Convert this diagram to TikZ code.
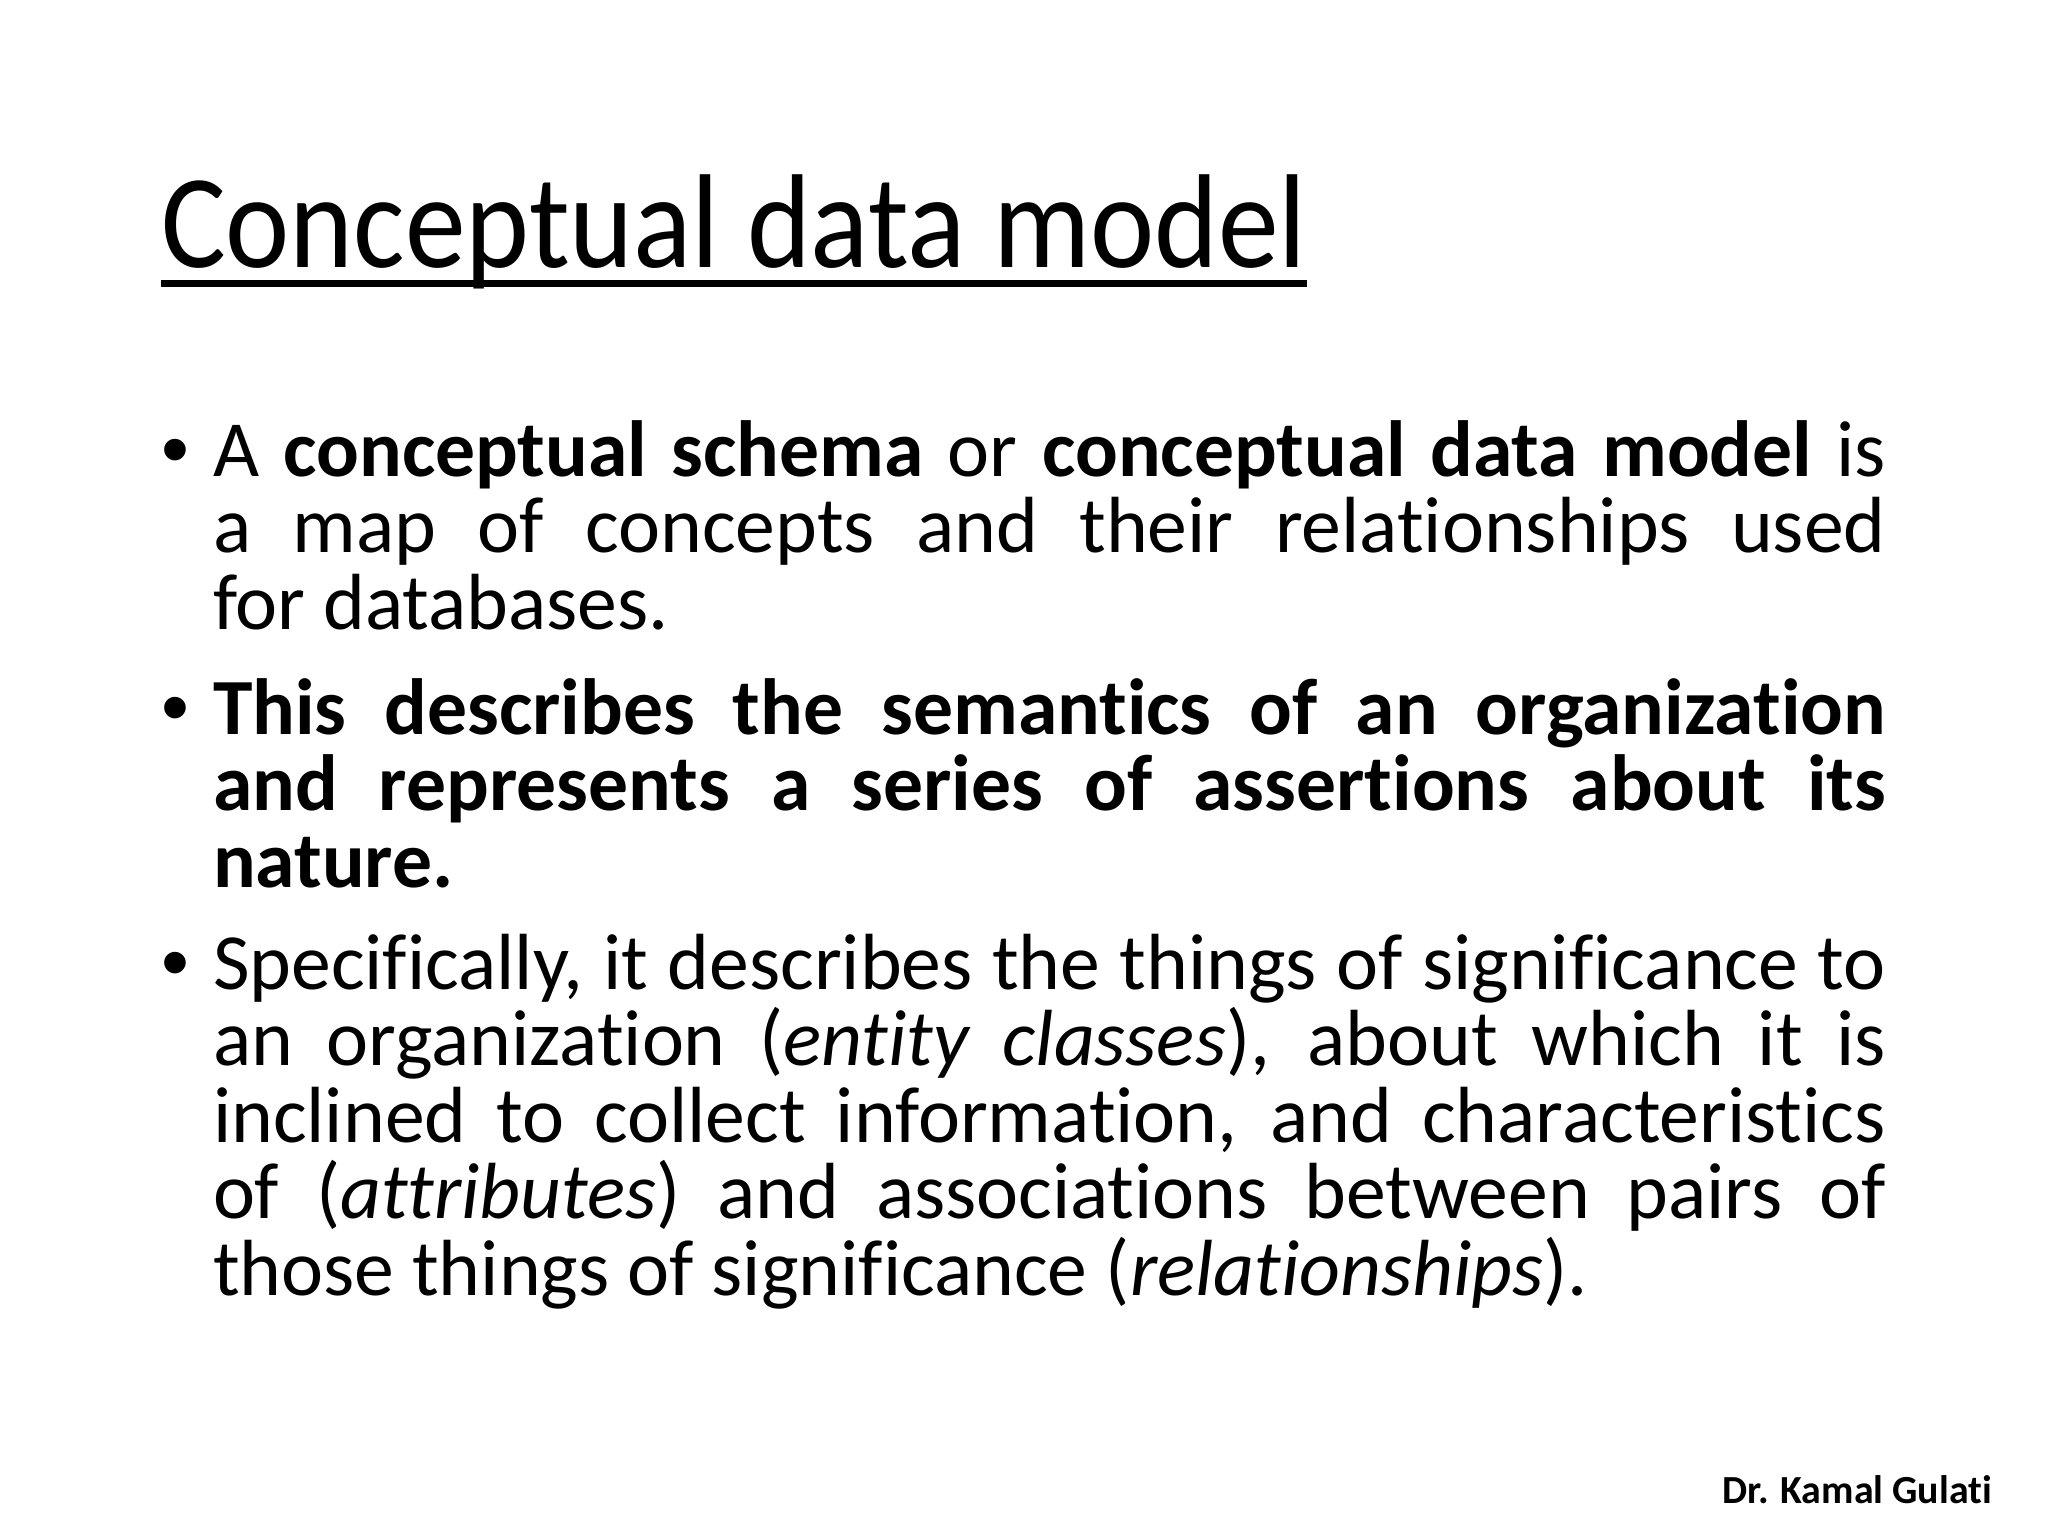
\documentclass[tikz,border=0pt]{standalone}
\usepackage{fontspec}
\setmainfont{Carlito}[Ligatures=NoCommon]
\newfontfamily\headfont{Carlito}[FakeStretch=0.91, Ligatures=NoCommon]
\newfontfamily\dotfont{Liberation Sans}
\usepackage{tikz}
\setlength{\parindent}{0pt}
\hyphenpenalty=10000

\begin{document}
\begin{tikzpicture}[x=0.01cm, y=-0.01cm, every node/.style={inner sep=0pt, outer sep=0pt}]
	\tikzset{
		heading/.style={anchor=base west, font=\headfont\fontsize{38pt}{46pt}\selectfont},
		point/.style={anchor=base west, text width=16.72cm, align=justify,
			font=\fontsize{22.65pt}{21.77pt}\selectfont},
		dot/.style={anchor=base west, font=\dotfont\fontsize{22.65pt}{21.77pt}\selectfont},
		credit/.style={anchor=base east, font=\bfseries\fontsize{11.33pt}{13pt}\selectfont}
	}
	\useasboundingbox (0,0) rectangle (2048,1536);
	\node[heading] (title) at (161,267) {Conceptual data model};
	\draw[line width=1.9pt] ([yshift=-0.165cm]title.base west) -- ([yshift=-0.165cm]title.base east);
	\node[dot] (b1dot) at (161,476) {•};
	\node[point] (b1) at (213,476) {A \textbf{conceptual schema} or \textbf{conceptual data model} is\linebreak
		a map of concepts and their relationships used\linebreak
		for databases.};
	\node[dot] (b2dot) at (161,734) {•};
	\node[point] (b2) at (213,734) {\bfseries This describes the semantics of an organization\linebreak
		and represents a series of assertions about its\linebreak
		nature.};
	\node[dot] (b3dot) at (161,989) {•};
	\node[point] (b3) at (213,989) {Specifically, it describes the things of significance to\linebreak
		an organization (\textit{entity classes}), about which it is\linebreak
		inclined to collect information, and characteristics\linebreak
		of (\textit{attributes}) and associations between pairs of\linebreak
		those things of significance (\textit{relationships}).};
	\node[credit] (author) at (1992,1503) {Dr. Kamal Gulati};
\end{tikzpicture}
\end{document}
